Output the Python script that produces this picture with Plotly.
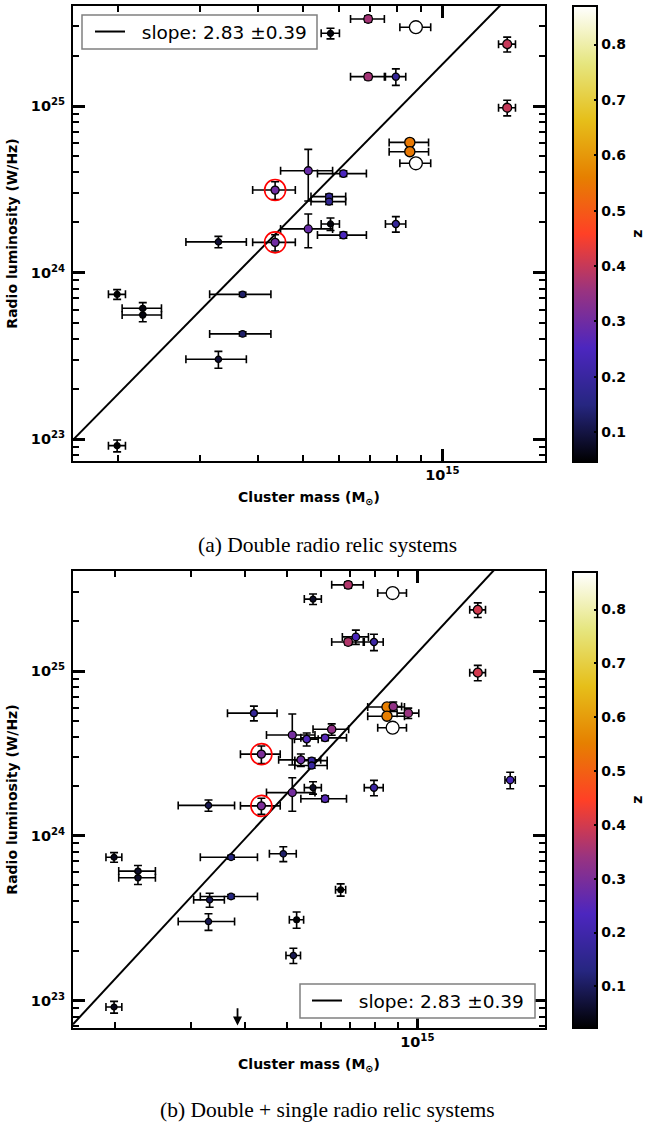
import numpy as np
import plotly.graph_objects as go

# ---------------- data ----------------
# Double radio relic systems: every cluster contributes two relics.
# mass in 1e14 Msun, radio luminosity in 1e24 W/Hz, redshift z
DR_MASS = [3.29, 3.29, 4.36, 4.36, 5.14, 5.14, 5.74, 5.74, 6.92, 6.92,
           8.77, 8.77, 13.8, 13.8, 7.94, 7.94, 8.51, 8.51, 6.12, 6.12,
           5.70, 5.70, 2.26, 2.26, 3.71, 3.71, 1.99, 1.99]
DR_MASS_ERR = [0.49, 0.49, 0.46, 0.46, 0.66, 0.66, 0.26, 0.26, 0.58, 0.58,
               0.67, 0.67, 0.58, 0.58, 0.40, 0.40, 0.83, 0.83, 0.74, 0.74,
               0.49, 0.49, 0.22, 0.22, 0.56, 0.56, 0.084, 0.084]
DR_LUM = [1.53, 0.302, 3.13, 1.52, 4.09, 1.83, 27.3, 1.96, 33.3, 15.0,
          29.7, 4.53, 23.5, 9.77, 15.0, 1.96, 6.05, 5.32, 3.93, 1.68,
          2.86, 2.67, 0.611, 0.557, 0.741, 0.429, 0.741, 0.0916]
DR_LUM_ERR = [0.12, 0.035, 0.38, 0.17, 1.40, 0.42, 2.0, 0.17, 1.5, 0.6,
              1.0, 0.15, 2.4, 1.05, 1.7, 0.21, 0.25, 0.2, 0.15, 0.07,
              0.10, 0.10, 0.05, 0.05, 0.02, 0.012, 0.05, 0.0075]
DR_Z = [0.09, 0.09, 0.30, 0.30, 0.29, 0.29, 0.0556, 0.0556, 0.366, 0.366,
        0.870, 0.870, 0.40, 0.40, 0.19, 0.19, 0.55, 0.55, 0.25, 0.25,
        0.18, 0.18, 0.058, 0.058, 0.13, 0.13, 0.046, 0.046]
# relics of the highlighted cluster (drawn with red rings)
HIGHLIGHT = [2, 3]

# Single radio relic systems
SR_MASS = [4.19, 5.55, 5.38, 6.34, 7.21, 8.80, 9.53, 16.4, 4.90, 3.31, 5.26, 5.17, 6.65]
SR_MASS_ERR = [0.55, 0.35, 0.60, 0.60, 0.50, 0.40, 0.55, 0.45, 0.35, 0.27, 0.20, 0.20, 0.18]
SR_LUM = [5.55, 3.86, 2.89, 4.43, 16.1, 6.08, 5.55, 2.18, 0.778, 0.409, 0.310, 0.188, 0.471]
SR_LUM_ERR = [0.57, 0.35, 0.25, 0.35, 1.6, 0.4, 0.4, 0.25, 0.08, 0.04, 0.035, 0.02, 0.04]
SR_Z = [0.17, 0.24, 0.28, 0.33, 0.23, 0.33, 0.34, 0.22, 0.11, 0.09, 0.03, 0.09, 0.023]

# upper limit (mass in 1e14 Msun, luminosity limit in 1e24 W/Hz)
UL_MASS = [3.84]
UL_LUM = [0.092]

# power-law fit  log L = slope * log M + intercept
FIT_SLOPE = 2.83
FIT_SLOPE_ERR = 0.39
FIT_INTERCEPT_A = -17.20
FIT_INTERCEPT_B = -17.34

# axis ranges (log10)
XRANGE_A = [14.2037, 15.2214]
YRANGE_A = [22.8698, 25.6001]
XRANGE_B = [14.2039, 15.2953]
YRANGE_B = [22.8344, 25.6066]

CBAR_TICKS = [0.1, 0.2, 0.3, 0.4, 0.5, 0.6, 0.7, 0.8]

# matplotlib "CMRmap" colour map
_cmr_r = [0.00, 0.15, 0.30, 0.60, 1.00, 0.90, 0.90, 0.90, 1.00]
_cmr_g = [0.00, 0.15, 0.15, 0.20, 0.25, 0.50, 0.75, 0.90, 1.00]
_cmr_b = [0.00, 0.50, 0.75, 0.50, 0.15, 0.00, 0.10, 0.50, 1.00]
CMRMAP = [[i / 8, "rgb(%d,%d,%d)" % (round(r * 255), round(g * 255), round(b * 255))]
          for i, (r, g, b) in enumerate(zip(_cmr_r, _cmr_g, _cmr_b))]

W, H = 646, 1126
FONT = "DejaVu Sans"


def px_x(p):
    return p / W


def px_y(p):
    return 1 - p / H


X_DOM = [px_x(73), px_x(545)]
Y_DOM_A = [px_y(461), px_y(6)]
Y_DOM_B = [px_y(1028), px_y(571)]

fig = go.Figure()


def add_panel(xa, ya, cax, legend, mass, mass_err, lum, lum_err, z,
              intercept, xrange):
    mass = np.asarray(mass) * 1e14
    mass_err = np.asarray(mass_err) * 1e14
    lum = np.asarray(lum) * 1e24
    lum_err = np.asarray(lum_err) * 1e24
    z = np.asarray(z)

    # fitted relation across the full mass range
    fx = 10 ** np.array(xrange)
    fy = 10 ** (FIT_SLOPE * np.log10(fx) + intercept)
    fig.add_trace(go.Scatter(
        x=fx, y=fy, mode="lines", xaxis=xa, yaxis=ya,
        line=dict(color="black", width=2),
        name="\u00a0\u00a0slope: %.2f ±%.2f" % (FIT_SLOPE, FIT_SLOPE_ERR),
        legend=legend, showlegend=True, hoverinfo="skip"))

    # error bars underneath the symbols
    fig.add_trace(go.Scatter(
        x=mass, y=lum, mode="markers", xaxis=xa, yaxis=ya, showlegend=False,
        error_x=dict(type="data", array=mass_err, color="black", thickness=1.6, width=4),
        error_y=dict(type="data", array=lum_err, color="black", thickness=1.6, width=4),
        marker=dict(size=1, color="rgba(0,0,0,0)"), hoverinfo="skip"))

    fig.add_trace(go.Scatter(
        x=mass, y=lum, mode="markers", xaxis=xa, yaxis=ya, showlegend=False,
        marker=dict(size=5.5 + 8.5 * z, color=z, coloraxis=cax, opacity=1,
                    line=dict(color="black", width=1.3))))

    hm = mass[HIGHLIGHT]
    hl = lum[HIGHLIGHT]
    fig.add_trace(go.Scatter(
        x=hm, y=hl, mode="markers", xaxis=xa, yaxis=ya, showlegend=False,
        marker=dict(symbol="circle-open", size=21, color="red",
                    line=dict(color="red", width=1.6))))


add_panel("x", "y", "coloraxis", "legend", DR_MASS, DR_MASS_ERR, DR_LUM,
          DR_LUM_ERR, DR_Z, FIT_INTERCEPT_A, XRANGE_A)
add_panel("x2", "y2", "coloraxis2", "legend2", DR_MASS + SR_MASS,
          DR_MASS_ERR + SR_MASS_ERR, DR_LUM + SR_LUM, DR_LUM_ERR + SR_LUM_ERR,
          DR_Z + SR_Z, FIT_INTERCEPT_B, XRANGE_B)

# upper limit shown as a downward arrow
for m, l in zip(UL_MASS, UL_LUM):
    fig.add_annotation(
        x=np.log10(m * 1e14), y=np.log10(l * 1e24 / 1.3), xref="x2", yref="y2",
        ax=np.log10(m * 1e14), ay=np.log10(l * 1e24), axref="x2", ayref="y2",
        text="", showarrow=True, arrowhead=2, arrowsize=1, arrowwidth=1.8,
        arrowcolor="black")

tickfont = dict(family=FONT, size=14.5, color="black", weight="bold")
titlefont = dict(family=FONT, size=14, color="black", weight="bold")
cbfont = dict(family=FONT, size=14, color="black", weight="bold")

minor_x = [k * 1e14 for k in range(2, 10)]
minor_y = [k * 10.0 ** e for e in (22, 23, 24, 25) for k in range(2, 10)]


def axis(domain, rng, tickvals, ticktext, minor_vals, title, anchor, standoff,
         label_pad):
    return dict(
        type="log", domain=domain, range=rng, anchor=anchor,
        showline=True, linewidth=2, linecolor="black", mirror="ticks",
        ticks="inside", ticklen=12, tickwidth=2.5, tickcolor="black",
        tickvals=tickvals, ticktext=ticktext, tickfont=tickfont,
        ticklabelstandoff=label_pad,
        showgrid=False, zeroline=False,
        minor=dict(ticks="inside", ticklen=6, tickwidth=1.5, tickcolor="black",
                   tickvals=minor_vals, showgrid=False),
        title=dict(text=title, font=titlefont, standoff=standoff))


xt = [1e15]
xtt = ["10<sup>15</sup>"]
yt = [1e23, 1e24, 1e25]
ytt = ["10<sup>23</sup>", "10<sup>24</sup>", "10<sup>25</sup>"]
xtitle = "Cluster mass (M<sub>⊙</sub>)"
ytitle = "Radio luminosity (W/Hz)"


def cbar(ycenter_px, len_px):
    return dict(
        x=px_x(573), xanchor="left", xpad=0, ypad=0,
        y=px_y(ycenter_px), yanchor="middle", len=len_px / H, lenmode="fraction",
        thickness=24, thicknessmode="pixels", outlinewidth=2, outlinecolor="black",
        tickvals=CBAR_TICKS, ticktext=["%.1f" % t for t in CBAR_TICKS],
        ticks="inside", ticklen=4, tickwidth=1.5, tickcolor="black",
        tickfont=cbfont)


z_all = DR_Z + SR_Z
legend_style = dict(xanchor="left", yanchor="middle", bgcolor="rgba(0,0,0,0)",
                    borderwidth=0, itemwidth=30,
                    font=dict(family=FONT, size=18.5, color="black"))

fig.update_layout(
    width=W, height=H, autosize=False,
    margin=dict(l=0, r=0, t=0, b=0),
    paper_bgcolor="white", plot_bgcolor="white",
    xaxis=axis(X_DOM, XRANGE_A, xt, xtt, minor_x, xtitle, "y", 10, 0),
    yaxis=axis(Y_DOM_A, YRANGE_A, yt, ytt, minor_y, ytitle, "x", 10, 3),
    xaxis2=axis(X_DOM, XRANGE_B, xt, xtt, minor_x, xtitle, "y2", 10, 0),
    yaxis2=axis(Y_DOM_B, YRANGE_B, yt, ytt, minor_y, ytitle, "x2", 10, 3),
    coloraxis=dict(colorscale=CMRMAP, cmin=min(DR_Z), cmax=max(DR_Z),
                   colorbar=cbar(233.85, 455.7)),
    coloraxis2=dict(colorscale=CMRMAP, cmin=min(z_all), cmax=max(z_all),
                    colorbar=cbar(799.85, 456.3)),
    legend=dict(x=px_x(90), y=px_y(32), **legend_style),
    legend2=dict(x=px_x(307), y=px_y(1001), **legend_style),
)

# legend frames
for x0, y0, x1, y1 in ((82, 15, 317, 49), (300, 984, 535, 1018)):
    fig.add_shape(type="rect", xref="paper", yref="paper",
                  x0=px_x(x0), x1=px_x(x1), y0=px_y(y1), y1=px_y(y0),
                  line=dict(color="#808080", width=1.5), fillcolor="white",
                  layer="above")

# colour bar labels
for yc in (233.85, 799.85):
    fig.add_annotation(text="z", xref="paper", yref="paper", x=px_x(637),
                       y=px_y(yc), showarrow=False, textangle=-90, font=titlefont,
                       xanchor="center", yanchor="middle")

caption_font = dict(family="Liberation Serif", size=21.5, color="black")
fig.add_annotation(text="(a) Double radio relic systems", xref="paper", yref="paper",
                   x=px_x(327.5), y=px_y(545), showarrow=False, font=caption_font,
                   xanchor="center", yanchor="middle")
fig.add_annotation(text="(b) Double + single radio relic systems", xref="paper",
                   yref="paper", x=px_x(327.5), y=px_y(1110), showarrow=False,
                   font=caption_font, xanchor="center", yanchor="middle")

fig.write_html("out.html")
